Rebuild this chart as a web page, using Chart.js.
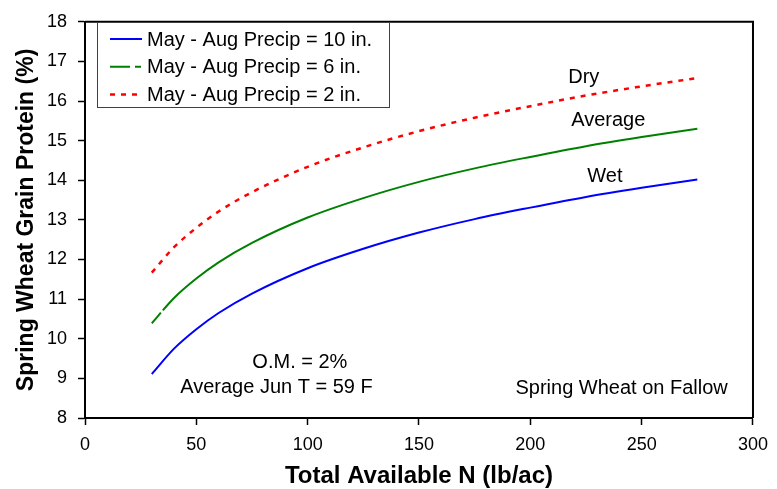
<!DOCTYPE html>
<html>
<head>
<meta charset="utf-8">
<script src="https://cdn.jsdelivr.net/npm/chart.js@4.4.1/dist/chart.umd.min.js"></script>
<style>
  html, body { margin: 0; padding: 0; background: #ffffff; }
  #wrap { width: 777px; height: 489px; position: relative; }
</style>
</head>
<body>
<div id="wrap"><canvas id="chart" width="777" height="489"></canvas></div>
<script>
// values
const nValues = [30, 40, 50, 60, 75, 100, 125, 150, 175, 200, 225, 250, 275];
const wetProtein = [9.11, 9.75, 10.24, 10.65, 11.14, 11.78, 12.27, 12.68, 13.02, 13.31, 13.58, 13.81, 14.02];
const avgProtein = [10.39, 11.03, 11.52, 11.93, 12.42, 13.06, 13.55, 13.96, 14.30, 14.59, 14.86, 15.09, 15.30];
const dryProtein = [11.67, 12.31, 12.80, 13.21, 13.70, 14.34, 14.83, 15.24, 15.58, 15.87, 16.14, 16.37, 16.58];
const seriesLabels = ['May - Aug Precip = 10 in.', 'May - Aug Precip = 6 in.', 'May - Aug Precip = 2 in.'];
const xTicks = [0, 50, 100, 150, 200, 250, 300];
const yTicks = [8, 9, 10, 11, 12, 13, 14, 15, 16, 17, 18];

// text notes placed in data units
const notes = [
  { text: 'Dry', x: 224, y: 16.6 },
  { text: 'Average', x: 235, y: 15.5 },
  { text: 'Wet', x: 233.5, y: 14.1 },
  { text: 'O.M. = 2%', x: 96.5, y: 9.4 },
  { text: 'Average Jun T = 59 F', x: 86, y: 8.77 },
  { text: 'Spring Wheat on Fallow', x: 241, y: 8.75 },
];

const FONT = "'Liberation Sans', Arial, sans-serif";

const toPoints = (ys) => nValues.map((x, i) => ({ x, y: ys[i] }));

const frameAndText = {
  id: 'frameAndText',
  afterDraw(chart) {
    const { ctx, chartArea, scales } = chart;
    ctx.save();
    // top and right frame
    ctx.strokeStyle = '#000000';
    ctx.lineWidth = 2;
    ctx.beginPath();
    ctx.moveTo(chartArea.left, chartArea.top);
    ctx.lineTo(chartArea.right, chartArea.top);
    ctx.lineTo(chartArea.right, chartArea.bottom);
    ctx.stroke();

    // notes
    ctx.fillStyle = '#000000';
    ctx.font = `20px ${FONT}`;
    ctx.textAlign = 'center';
    ctx.textBaseline = 'middle';
    notes.forEach((note) => {
      ctx.fillText(note.text, scales.x.getPixelForValue(note.x), scales.y.getPixelForValue(note.y));
    });

    // legend box
    const boxX = 97;
    const boxY = 22;
    const boxW = 292;
    const boxH = 85;
    ctx.fillStyle = '#ffffff';
    ctx.fillRect(boxX, boxY, boxW, boxH);
    ctx.strokeStyle = '#404040';
    ctx.lineWidth = 1;
    ctx.strokeRect(boxX + 0.5, boxY + 0.5, boxW, boxH);
    ctx.textAlign = 'left';
    chart.data.datasets.forEach((ds, i) => {
      const rowY = 39 + i * 27.7;
      ctx.strokeStyle = ds.borderColor;
      ctx.lineWidth = ds.borderWidth;
      ctx.setLineDash(ds.legendDash || []);
      ctx.beginPath();
      ctx.moveTo(110, rowY);
      ctx.lineTo(142, rowY);
      ctx.stroke();
      ctx.setLineDash([]);
      ctx.fillStyle = '#000000';
      ctx.font = `20px ${FONT}`;
      ctx.fillText(ds.label, 147, rowY + 1);
    });
    ctx.restore();
  },
};

new Chart(document.getElementById('chart').getContext('2d'), {
  type: 'line',
  data: {
    datasets: [
      {
        label: seriesLabels[0],
        data: toPoints(wetProtein),
        borderColor: '#0000ff',
        borderWidth: 2,
        legendDash: [],
      },
      {
        label: seriesLabels[1],
        data: toPoints(avgProtein),
        borderColor: '#008000',
        borderWidth: 2,
        borderDash: [14, 3, 3000, 3],
        legendDash: [20, 5, 6, 5],
      },
      {
        label: seriesLabels[2],
        data: toPoints(dryProtein),
        borderColor: '#ff0000',
        borderWidth: 2.5,
        borderDash: [5, 6],
        legendDash: [5, 6],
      },
    ],
  },
  options: {
    responsive: false,
    animation: false,
    events: [],
    datasets: {
      line: {
        pointRadius: 0,
        fill: false,
        cubicInterpolationMode: 'monotone',
      },
    },
    layout: { padding: { top: 17, right: 24, left: 0, bottom: 0 } },
    plugins: {
      legend: { display: false },
      tooltip: { enabled: false },
    },
    scales: {
      x: {
        type: 'linear',
        min: 0,
        max: 300,
        afterBuildTicks(scale) {
          scale.ticks = xTicks.map((value) => ({ value }));
        },
        afterFit(scale) { scale.height = 71; },
        grid: { drawOnChartArea: false, drawTicks: true, tickLength: 7, color: '#000000', tickWidth: 1.5 },
        border: { display: true, color: '#000000', width: 2 },
        ticks: { color: '#000000', font: { family: FONT, size: 18 }, padding: 9, maxRotation: 0 },
        title: {
          display: true,
          text: 'Total Available N (lb/ac)',
          color: '#000000',
          font: { family: FONT, size: 24, weight: 'bold', lineHeight: 1.05 },
          padding: { top: 0, bottom: 0 },
        },
      },
      y: {
        type: 'linear',
        min: 8,
        max: 18,
        afterBuildTicks(scale) {
          scale.ticks = yTicks.map((value) => ({ value }));
        },
        afterFit(scale) { scale.width = 85; },
        grid: { drawOnChartArea: false, drawTicks: true, tickLength: 7, color: '#000000', tickWidth: 1.5 },
        border: { display: true, color: '#000000', width: 2 },
        ticks: { color: '#000000', font: { family: FONT, size: 18 }, padding: 11 },
        title: {
          display: true,
          text: 'Spring Wheat Grain Protein (%)',
          color: '#000000',
          font: { family: FONT, size: 23, weight: 'bold', lineHeight: 1.2 },
          padding: { top: 13, bottom: 0 },
        },
      },
    },
  },
  plugins: [frameAndText],
});
</script>
</body>
</html>
